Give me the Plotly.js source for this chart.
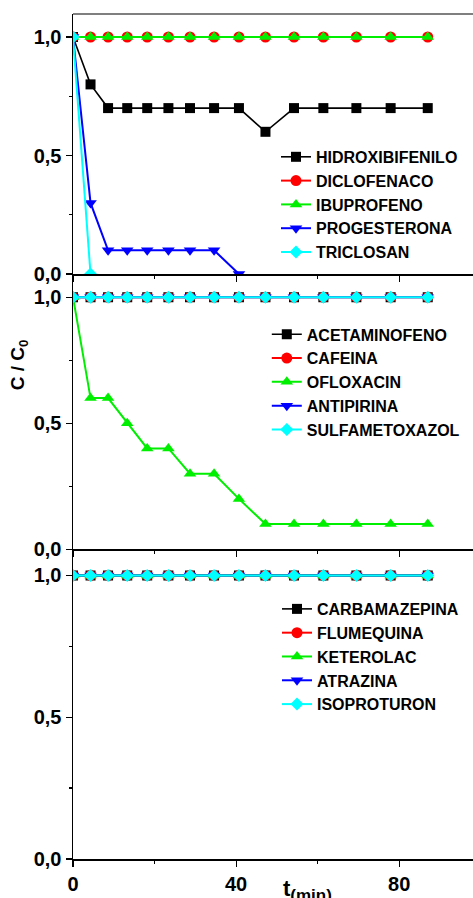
<!DOCTYPE html>
<html>
<head>
<meta charset="utf-8">
<script src="https://cdn.plot.ly/plotly-3.0.1.min.js"></script>
<style>html,body{margin:0;padding:0;background:#fff;}#chart{width:473px;height:898px;}</style>
</head>
<body>
<div id="chart"></div>
<script>
// time (min)
var t = [0, 4.3, 8.6, 13.3, 18.2, 23.4, 28.7, 34.6, 40.7, 47.2, 54.2, 61.4, 69.5, 77.9, 87.0];

// Panel 1
var hidroxibifenilo = [1.0, 0.8, 0.7, 0.7, 0.7, 0.7, 0.7, 0.7, 0.7, 0.6, 0.7, 0.7, 0.7, 0.7, 0.7];
var diclofenaco    = [1.0, 1.0, 1.0, 1.0, 1.0, 1.0, 1.0, 1.0, 1.0, 1.0, 1.0, 1.0, 1.0, 1.0, 1.0];
var ibuprofeno     = [1.0, 1.0, 1.0, 1.0, 1.0, 1.0, 1.0, 1.0, 1.0, 1.0, 1.0, 1.0, 1.0, 1.0, 1.0];
var progesterona   = [1.0, 0.3, 0.1, 0.1, 0.1, 0.1, 0.1, 0.1, 0.0];
var triclosan      = [1.0, 0.0];

// Panel 2
var acetaminofeno  = [1.0, 1.0, 1.0, 1.0, 1.0, 1.0, 1.0, 1.0, 1.0, 1.0, 1.0, 1.0, 1.0, 1.0, 1.0];
var cafeina        = [1.0, 1.0, 1.0, 1.0, 1.0, 1.0, 1.0, 1.0, 1.0, 1.0, 1.0, 1.0, 1.0, 1.0, 1.0];
var ofloxacin      = [1.0, 0.6, 0.6, 0.5, 0.4, 0.4, 0.3, 0.3, 0.2, 0.1, 0.1, 0.1, 0.1, 0.1, 0.1];
var antipirina     = [1.0, 1.0, 1.0, 1.0, 1.0, 1.0, 1.0, 1.0, 1.0, 1.0, 1.0, 1.0, 1.0, 1.0, 1.0];
var sulfametoxazol = [1.0, 1.0, 1.0, 1.0, 1.0, 1.0, 1.0, 1.0, 1.0, 1.0, 1.0, 1.0, 1.0, 1.0, 1.0];

// Panel 3
var carbamazepina  = [1.0, 1.0, 1.0, 1.0, 1.0, 1.0, 1.0, 1.0, 1.0, 1.0, 1.0, 1.0, 1.0, 1.0, 1.0];
var flumequina     = [1.0, 1.0, 1.0, 1.0, 1.0, 1.0, 1.0, 1.0, 1.0, 1.0, 1.0, 1.0, 1.0, 1.0, 1.0];
var keterolac      = [1.0, 1.0, 1.0, 1.0, 1.0, 1.0, 1.0, 1.0, 1.0, 1.0, 1.0, 1.0, 1.0, 1.0, 1.0];
var atrazina       = [1.0, 1.0, 1.0, 1.0, 1.0, 1.0, 1.0, 1.0, 1.0, 1.0, 1.0, 1.0, 1.0, 1.0, 1.0];
var isoproturon    = [1.0, 1.0, 1.0, 1.0, 1.0, 1.0, 1.0, 1.0, 1.0, 1.0, 1.0, 1.0, 1.0, 1.0, 1.0];

var panels = [
  {names: ['HIDROXIBIFENILO', 'DICLOFENACO', 'IBUPROFENO', 'PROGESTERONA', 'TRICLOSAN'],
   data: [hidroxibifenilo, diclofenaco, ibuprofeno, progesterona, triclosan]},
  {names: ['ACETAMINOFENO', 'CAFEINA', 'OFLOXACIN', 'ANTIPIRINA', 'SULFAMETOXAZOL'],
   data: [acetaminofeno, cafeina, ofloxacin, antipirina, sulfametoxazol]},
  {names: ['CARBAMAZEPINA', 'FLUMEQUINA', 'KETEROLAC', 'ATRAZINA', 'ISOPROTURON'],
   data: [carbamazepina, flumequina, keterolac, atrazina, isoproturon]}
];

var styles = [
  {color: '#000000', symbol: 'square', size: 10, lw: 1.6},
  {color: '#FF0000', symbol: 'circle', size: 11, lw: 2},
  {color: '#00EE00', symbol: 'triangle-up', size: 11, lw: 2},
  {color: '#0000FF', symbol: 'triangle-down', size: 11, lw: 2},
  {color: '#00FFFF', symbol: 'diamond', size: 10, lw: 2}
];

var traces = [];
panels.forEach(function (p, pi) {
  var sfx = pi === 0 ? '' : String(pi + 1);
  p.data.forEach(function (vals, i) {
    var s = styles[i];
    traces.push({
      type: 'scatter', mode: 'lines+markers',
      x: t.slice(0, vals.length), y: vals, name: p.names[i],
      xaxis: 'x' + sfx, yaxis: 'y' + sfx, legend: 'legend' + sfx,
      line: {color: s.color, width: s.lw},
      marker: {color: s.color, symbol: s.symbol, size: s.size, line: {width: 0}}
    });
  });
});

var tickFont = {family: 'Liberation Sans, Arial, sans-serif', size: 20, color: '#000', weight: 'bold'};
var legFont = {family: 'Liberation Sans, Arial, sans-serif', size: 16, color: '#000', weight: 'bold'};

function xax(anchor, labels) {
  return {
    domain: [0, 1], anchor: anchor, range: [0, 98.1],
    showgrid: false, zeroline: false, showline: true, linecolor: '#000', linewidth: 1.5,
    ticks: 'outside', ticklen: 6, tickwidth: 1.2, tickcolor: '#000',
    tick0: 0, dtick: 40, showticklabels: labels, tickfont: tickFont,
    minor: {dtick: 20, ticks: 'outside', ticklen: 3, tickwidth: 1.2, tickcolor: '#000'}
  };
}
function yax(anchor, dom, top) {
  return {
    domain: dom, anchor: anchor, range: [0, top],
    showgrid: false, zeroline: false, showline: true, linecolor: '#000', linewidth: 1.5,
    ticks: 'outside', ticklen: 6, tickwidth: 1.2, tickcolor: '#000',
    tickvals: [0, 0.5, 1.0], ticktext: ['0,0', '0,5', '1,0'], tickfont: tickFont,
    minor: {tickvals: [0.25, 0.75], ticks: 'outside', ticklen: 3, tickwidth: 1.2, tickcolor: '#000'}
  };
}
function leg(x, y) {
  return {x: x, y: y, xanchor: 'left', yanchor: 'top', font: legFont,
          bgcolor: 'rgba(0,0,0,0)', borderwidth: 0, traceorder: 'normal', tracegroupgap: 0};
}

var layout = {
  width: 473, height: 898,
  margin: {l: 73, r: 0, t: 14, b: 39},
  paper_bgcolor: '#fff', plot_bgcolor: 'rgba(0,0,0,0)',
  showlegend: true,
  xaxis: xax('y', false),
  xaxis2: xax('y2', false),
  xaxis3: xax('y3', true),
  yaxis: yax('x', [0.6923, 1], 1.097),
  yaxis2: yax('x2', [0.3665, 0.6923], 1.092),
  yaxis3: yax('x3', [0, 0.3665], 1.092),
  legend: leg(0.5075, 0.851),
  legend2: leg(0.4845, 0.641),
  legend3: leg(0.510, 0.316),
  shapes: [
    {type: 'line', xref: 'paper', yref: 'paper', x0: 0, x1: 1, y0: 1, y1: 1,
     line: {color: '#555', width: 1.5}}
  ],
  annotations: [
    {text: 'C / C<sub>0</sub>', xref: 'paper', yref: 'paper', x: -0.136, y: 0.585,
     xanchor: 'center', yanchor: 'middle', textangle: -90, showarrow: false,
     font: {family: 'Liberation Sans, Arial, sans-serif', size: 19, color: '#000', weight: 'bold'}},
    {text: 't<sub><span style="font-size:17px">(min)</span></sub>', xref: 'paper', yref: 'paper', x: 0.587, y: -0.018,
     xanchor: 'center', yanchor: 'top', showarrow: false,
     font: {family: 'Liberation Sans, Arial, sans-serif', size: 22, color: '#000', weight: 'bold'}}
  ]
};

Plotly.newPlot('chart', traces, layout, {displayModeBar: false, staticPlot: true});
</script>
</body>
</html>
